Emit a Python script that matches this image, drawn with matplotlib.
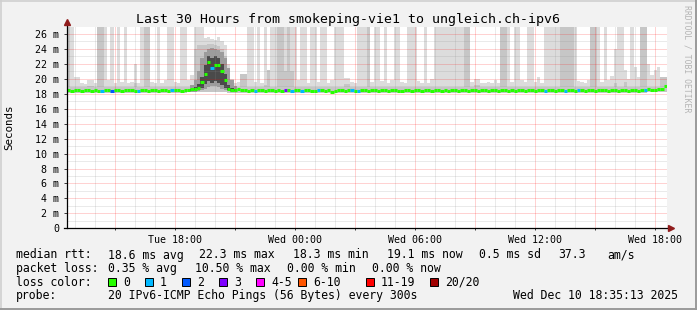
import numpy as np
import matplotlib
matplotlib.use("Agg")
import matplotlib.pyplot as plt
import matplotlib.dates as mdates
from matplotlib.ticker import MultipleLocator, FuncFormatter
from matplotlib.patches import Rectangle
from matplotlib.lines import Line2D
from datetime import datetime, timedelta

# --- data: 10 minute bins over the last 30 hours ---------------------------
END = datetime(2025, 12, 10, 18, 35, 13)
START = END - timedelta(hours=30)
BIN_MIN = 10

median_ms = [
    18.5, 18.4, 18.5, 18.5, 18.4, 18.5, 18.5, 18.4, 18.5, 18.4, 18.4, 18.5, 18.5, 18.4, 18.5, 18.5, 18.4, 18.5,
    18.5, 18.5, 18.4, 18.4, 18.5, 18.5, 18.4, 18.5, 18.5, 18.4, 18.5, 18.5, 18.4, 18.5, 18.5, 18.5, 18.4, 18.5,
    18.5, 18.6, 18.6, 18.8, 19.6, 20.6, 22.3, 21.4, 21.9, 21.8, 21.0, 19.8, 18.7, 18.5, 18.5, 18.6, 18.5, 18.5,
    18.4, 18.5, 18.4, 18.5, 18.5, 18.4, 18.5, 18.5, 18.4, 18.5, 18.4, 18.5, 18.5, 18.4, 18.5, 18.5, 18.4, 18.5,
    18.5, 18.4, 18.4, 18.5, 18.5, 18.4, 18.5, 18.3, 18.4, 18.5, 18.5, 18.4, 18.5, 18.5, 18.4, 18.4, 18.5, 18.5,
    18.4, 18.5, 18.5, 18.4, 18.5, 18.5, 18.4, 18.5, 18.5, 18.4, 18.4, 18.5, 18.5, 18.4, 18.5, 18.5, 18.4, 18.5,
    18.5, 18.4, 18.5, 18.5, 18.4, 18.5, 18.4, 18.5, 18.5, 18.4, 18.5, 18.5, 18.4, 18.5, 18.5, 18.4, 18.5, 18.5,
    18.4, 18.5, 18.5, 18.4, 18.5, 18.5, 18.4, 18.5, 18.4, 18.5, 18.5, 18.4, 18.5, 18.5, 18.4, 18.5, 18.5, 18.4,
    18.5, 18.5, 18.4, 18.5, 18.5, 18.4, 18.5, 18.5, 18.4, 18.5, 18.5, 18.4, 18.5, 18.5, 18.4, 18.5, 18.5, 18.5,
    18.4, 18.5, 18.5, 18.4, 18.5, 18.5, 18.4, 18.5, 18.5, 18.4, 18.5, 18.5, 18.6, 18.5, 18.5, 18.6, 18.6, 19.1,
]

# slowest ping of each bin (30 = off the top of the chart)
smoke_hi_ms = [
    30, 30, 20.2, 20.2, 19.4, 19.3, 19.8, 19.8, 19.5, 30, 30, 30, 19.8, 30, 19.5, 30, 19.6, 30,
    19.4, 19.6, 22.0, 19.5, 30, 30, 30, 19.6, 19.4, 30, 19.5, 19.8, 30, 30, 19.6, 19.5, 30, 30,
    19.8, 20.5, 30, 30, 30, 25.5, 25.6, 25.4, 25.2, 25.6, 25.0, 24.5, 22.0, 20.0, 19.5, 19.6, 20.7, 20.7,
    30, 30, 19.6, 30, 19.5, 30, 21.2, 30, 30, 30, 30, 30, 30, 30, 30, 19.8, 30, 30,
    19.5, 30, 30, 19.6, 30, 30, 19.5, 19.8, 30, 30, 30, 20.1, 20.1, 19.6, 19.4, 30, 30, 30,
    30, 19.6, 30, 30, 19.7, 30, 19.5, 19.8, 30, 30, 19.6, 19.5, 30, 30, 30, 19.7, 19.5, 30,
    19.5, 20.0, 30, 30, 30, 30, 30, 30, 30, 30, 30, 30, 30, 19.6, 20.0, 20.0, 19.5, 19.4,
    19.6, 19.5, 19.8, 19.5, 30, 30, 30, 19.6, 30, 30, 19.8, 19.6, 30, 30, 19.6, 20.2, 19.5, 30,
    30, 30, 30, 30, 30, 30, 30, 30, 30, 19.7, 19.6, 19.5, 19.8, 30, 30, 30, 19.6, 30,
    19.8, 20.4, 24.0, 30, 30, 21.2, 20.0, 30, 21.6, 20.2, 30, 30, 22.0, 20.5, 21.2, 21.6, 20.2, 20.2,
]

# second slowest pings
smoke_mid_ms = [
    30, 18.9, 18.9, 18.9, 18.9, 18.9, 19.1, 19.1, 18.9, 30, 30, 18.9, 18.9, 18.9, 18.9, 18.9, 18.9, 18.9,
    18.9, 18.9, 19.4, 18.9, 18.9, 30, 30, 18.9, 18.9, 18.9, 18.9, 18.9, 18.9, 18.9, 18.9, 18.9, 18.9, 18.9,
    18.9, 19.2, 24.0, 24.5, 24.5, 24.5, 24.7, 24.6, 24.5, 24.4, 24.0, 23.0, 21.0, 19.5, 18.9, 18.9, 20.7, 20.7,
    18.9, 18.9, 18.9, 18.9, 18.9, 19.2, 21.2, 18.9, 18.9, 30, 30, 21.0, 30, 21.0, 18.9, 18.9, 18.9, 18.9,
    18.9, 18.9, 18.9, 18.9, 18.9, 18.9, 18.9, 18.9, 18.9, 18.9, 18.9, 19.3, 19.3, 18.9, 18.9, 18.9, 18.9, 18.9,
    30, 18.9, 18.9, 18.9, 18.9, 18.9, 18.9, 18.9, 18.9, 18.9, 18.9, 18.9, 18.9, 18.9, 18.9, 18.9, 18.9, 18.9,
    18.9, 18.9, 18.9, 18.9, 18.9, 18.9, 18.9, 18.9, 18.9, 18.9, 18.9, 30, 30, 18.9, 19.2, 19.2, 18.9, 18.9,
    18.9, 18.9, 18.9, 18.9, 30, 30, 18.9, 18.9, 18.9, 18.9, 18.9, 18.9, 18.9, 18.9, 18.9, 18.9, 18.9, 18.9,
    18.9, 18.9, 18.9, 18.9, 30, 30, 30, 30, 18.9, 18.9, 18.9, 18.9, 18.9, 30, 30, 18.9, 18.9, 18.9,
    18.9, 18.9, 19.5, 18.9, 18.9, 19.6, 18.9, 18.9, 18.9, 18.9, 30, 30, 18.9, 18.9, 18.9, 18.9, 20.2, 20.2,
]

# fastest pings, read per hour
smoke_lo_hourly = [18.1, 18.1, 18.1, 18.1, 18.1, 18.1, 18.2, 18.2, 18.1, 18.1,
                   18.1, 18.1, 18.1, 18.1, 18.1, 18.1, 18.1, 18.1, 18.1, 18.1,
                   18.1, 18.1, 18.1, 18.1, 18.1, 18.1, 18.1, 18.1, 18.1, 18.2]

# dense smoke during the evening bump
bump_first_bin = 37
bump_dark_hi = [19.2, 19.8, 21.0, 22.8, 23.6, 24.0, 24.1, 24.0, 23.9, 23.6, 22.8, 21.5, 19.8, 19.0]
bump_dark_lo = [18.3, 18.3, 18.4, 18.5, 18.7, 18.9, 19.0, 19.0, 18.9, 18.7, 18.5, 18.4, 18.3, 18.3]
bump_core_hi = [18.7, 18.9, 19.3, 20.3, 21.8, 23.0, 22.8, 23.0, 22.8, 22.0, 20.6, 19.2, 18.8, 18.6]
bump_core_lo = [18.4, 18.5, 18.6, 18.8, 19.3, 19.7, 19.5, 19.7, 19.5, 19.2, 18.8, 18.5, 18.4, 18.4]

# bins with lost pings
loss_bins = [10, 13, 21, 31, 43, 56, 65, 67, 70, 75, 85, 87, 143, 149, 153, 173]
loss_pings = [1, 2, 1, 1, 1, 1, 3, 1, 1, 1, 1, 1, 1, 1, 1, 1]

loss_labels = ["0", "1", "2", "3", "4-5", "6-10", "11-19", "20/20"]
loss_colors = ["#26ff00", "#00b8ff", "#0059ff", "#7e00ff",
               "#ff00ff", "#ff5500", "#ff0000", "#a10000"]

rtt_legend = ["18.6 ms avg", "22.3 ms max", "18.3 ms min", "19.1 ms now",
              "0.5 ms sd", "37.3", "am/s"]
loss_legend = ["0.35 % avg", "10.50 % max", "0.00 % min", "0.00 % now"]
probe_text = "20 IPv6-ICMP Echo Pings (56 Bytes) every 300s"
stamp_text = "Wed Dec 10 18:35:13 2025"
title = "Last 30 Hours from smokeping-vie1 to ungleich.ch-ipv6"


def loss_class(n):
    if n <= 3:
        return n
    if n <= 5:
        return 4
    if n <= 10:
        return 5
    if n <= 19:
        return 6
    return 7


plt.rcParams["font.family"] = "DejaVu Sans Mono"
W, H = 697, 310
fig = plt.figure(figsize=(W / 100, H / 100), dpi=100, facecolor="#f2f2f2")
ax = fig.add_axes([67 / W, (H - 228.3) / H, 600 / W, 201 / H])
ax.set_facecolor("white")

n = len(median_ms)
edges = mdates.date2num(START) + np.arange(n + 1) * BIN_MIN / 1440.0


def stepped(v):
    v = np.asarray(v, dtype=float)
    return np.append(v, v[-1])


lo = np.repeat(smoke_lo_hourly, 60 // BIN_MIN)
ax.fill_between(edges, stepped(lo), stepped(smoke_hi_ms), step="post",
                color="#dcdcdc", lw=0, zorder=1)
ax.fill_between(edges, stepped(lo), stepped(smoke_mid_ms), step="post",
                color="#c6c6c6", lw=0, zorder=1.1)

b = slice(bump_first_bin, bump_first_bin + len(bump_core_hi) + 1)
ax.fill_between(edges[b], stepped(bump_dark_lo), stepped(bump_dark_hi), step="post",
                color="#9c9c9c", lw=0, zorder=1.2)
ax.fill_between(edges[b], stepped(bump_core_lo), stepped(bump_core_hi), step="post",
                color="#4a4a4a", lw=0, zorder=1.3)

loss = np.zeros(n, dtype=int)
loss[loss_bins] = loss_pings
med_colors = [loss_colors[loss_class(k)] for k in loss]
ax.hlines(median_ms, edges[:-1], edges[1:], colors=med_colors, lw=2.2, zorder=4)

ax.set_xlim(edges[0], edges[-1])
ax.set_ylim(0, 26.9)

ax.xaxis.set_major_locator(mdates.HourLocator(byhour=range(0, 24, 3)))
ax.xaxis.set_minor_locator(mdates.HourLocator())


def xfmt(v, pos):
    d = mdates.num2date(v)
    return d.strftime("%a %H:%M") if d.hour % 6 == 0 else ""


ax.xaxis.set_major_formatter(FuncFormatter(xfmt))
ax.yaxis.set_major_locator(MultipleLocator(2))
ax.yaxis.set_minor_locator(MultipleLocator(1))
ax.yaxis.set_major_formatter(FuncFormatter(lambda v, p: "0" if v == 0 else f"{v:.0f} m"))

ax.set_axisbelow(False)
dot = (0, (1, 1))
ax.grid(which="major", color="#ff0000", alpha=0.35, ls=dot, lw=0.72)
ax.grid(which="minor", color="#8c8c8c", alpha=0.35, ls=dot, lw=0.72)

ax.tick_params(axis="y", which="major", length=2.5, width=0.72, color="#404040",
               pad=3, labelsize=7.2)
ax.tick_params(axis="x", which="major", length=1.5, width=0.72, color="#404040",
               pad=3, labelsize=7.2)
ax.tick_params(which="minor", length=0)
for s in ax.spines.values():
    s.set_visible(False)

# axes with arrows
ax.plot([-0.005, 1.003], [0, 0], transform=ax.transAxes, color="black",
        lw=0.9, clip_on=False, zorder=5)
ax.plot([0, 0], [0, 1.02], transform=ax.transAxes, color="black",
        lw=0.9, clip_on=False, zorder=5)
ax.plot([1.006], [0], marker=">", ms=4, color="#901c1c", transform=ax.transAxes,
        clip_on=False, zorder=6)
ax.plot([0], [1.025], marker="^", ms=4, color="#901c1c", transform=ax.transAxes,
        clip_on=False, zorder=6)

# texts
fig.text(0.5, 1 - 19 / H, title, ha="center", va="center", fontsize=9.5)
fig.text(9 / W, 1 - 127 / H, "Seconds", rotation=90, ha="center", va="center", fontsize=7.8)
fig.text(687 / W, 1 - 59 / H, "RRDTOOL / TOBI OETIKER", rotation=270, ha="center",
         va="center", fontsize=5.9, color="#b4b4b4")


def put(x, y, s):
    fig.text(x / W, 1 - y / H, s, ha="left", va="center", fontsize=8.3)


rows = [255, 268.5, 282, 295.5]
put(16, rows[0], "median rtt:")
for x, s in zip([107.6, 199, 293, 387, 479, 558, 607], rtt_legend):
    put(x, rows[0], s)
put(16, rows[1], "packet loss:")
for x, s in zip([107.6, 195, 287, 372], loss_legend):
    put(x, rows[1], s)
put(16, rows[2], "loss color:")
for x, lab, c in zip([108, 145, 182, 219, 256, 298, 366, 430], loss_labels, loss_colors):
    fig.patches.append(Rectangle((x / W, 1 - (rows[2] + 4) / H), 8 / W, 8 / H,
                                 transform=fig.transFigure, facecolor=c,
                                 edgecolor="black", lw=0.7))
    put(x + 15, rows[2], lab)
put(16, rows[3], "probe:")
put(107.6, rows[3], probe_text)
put(513, rows[3], stamp_text)

# frame
fig.add_artist(Line2D([0, 1], [1 - 0.5 / H] * 2, color="#d0d0d0", lw=1.2))
fig.add_artist(Line2D([0.5 / W] * 2, [0, 1], color="#d0d0d0", lw=1.2))
fig.add_artist(Line2D([1 - 1 / W] * 2, [0, 1], color="#9a9a9a", lw=1.4))
fig.add_artist(Line2D([0, 1], [1 / H] * 2, color="#9a9a9a", lw=1.4))

fig.savefig("out.png", dpi=100, facecolor=fig.get_facecolor())
